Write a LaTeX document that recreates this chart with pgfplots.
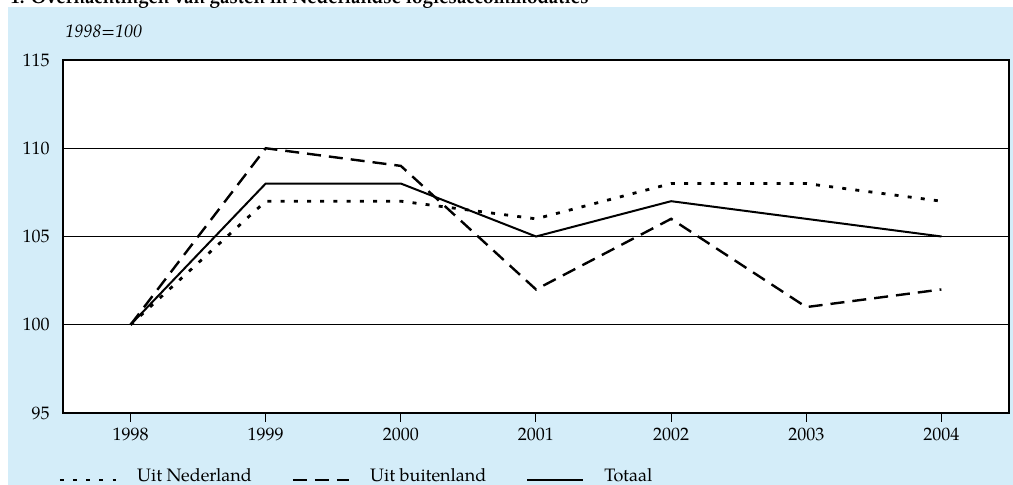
\documentclass[border=0pt]{standalone}
\usepackage{pgfplots}
\pgfplotsset{compat=1.18}
\usepackage{fontspec}
\setmainfont{TeX Gyre Pagella}
\definecolor{bgblue}{RGB}{212,237,249}

\begin{document}
\fontsize{9}{11}\selectfont
\begin{tikzpicture}
% background panel and title (cut off at the top, as in the source)
\fill[bgblue] (-27.5pt,-40pt) rectangle (480pt,203pt);
\node[anchor=base west, inner sep=0pt, font=\fontsize{9.4}{11}\selectfont\bfseries] at (-26.5pt,204.5pt)
  {1. Overnachtingen van gasten in Nederlandse logiesaccommodaties};
\node[anchor=base west, inner sep=0pt, font=\itshape] at (1pt,187.5pt) {1998=100};
\begin{axis}[
    at={(0pt,0pt)}, anchor=south west,
    scale only axis,
    width=473pt, height=176.5pt,
    xmin=1997.5, xmax=2004.5,
    ymin=95, ymax=115,
    xtick={1998,1999,2000,2001,2002,2003,2004},
    ytick={95,100,105,110,115},
    /pgf/number format/assume math mode=true,
    /pgf/number format/set thousands separator={},
    tick align=outside,
    major tick length=4.5pt,
    xtick pos=bottom,
    ytick style={draw=none},
    xtick style={black, line width=0.5pt},
    yticklabel style={xshift=1pt},
    axis line style={black, line width=0.6pt},
    axis background/.style={fill=white},
    ymajorgrids=true,
    grid style={black, line width=0.5pt},
    legend columns=3,
    legend style={draw=none, fill=none, at={(0,0)}, anchor=west,
        xshift=-5.5pt, yshift=-31.5pt,
        nodes={inner sep=0pt},
        /tikz/every odd column/.append style={column sep=10pt},
        /tikz/every even column/.append style={column sep=20pt}},
    legend image code/.code={\draw[#1] (0pt,-2pt) -- (28pt,-2pt);},
]
\addplot[black, line width=1.4pt, dash pattern=on 2pt off 4.6pt]
    coordinates {
    (1998,100) (1999,107) (2000,107) (2001,106) (2002,108) (2003,108) (2004,107)
    };
\addlegendentry{Uit Nederland}

\addplot[black, line width=1.2pt, dash pattern=on 7pt off 4pt]
    coordinates {
    (1998,100) (1999,110) (2000,109) (2001,102) (2002,106) (2003,101) (2004,102)
    };
\addlegendentry{Uit buitenland}

\addplot[black, line width=1pt]
    coordinates {
    (1998,100) (1999,108) (2000,108) (2001,105) (2002,107) (2003,106) (2004,105)
    };
\addlegendentry{Totaal}
\end{axis}
\pgfresetboundingbox
\path[use as bounding box] (-31.5pt,-36pt) rectangle (475pt,206.5pt);
\end{tikzpicture}
\end{document}
